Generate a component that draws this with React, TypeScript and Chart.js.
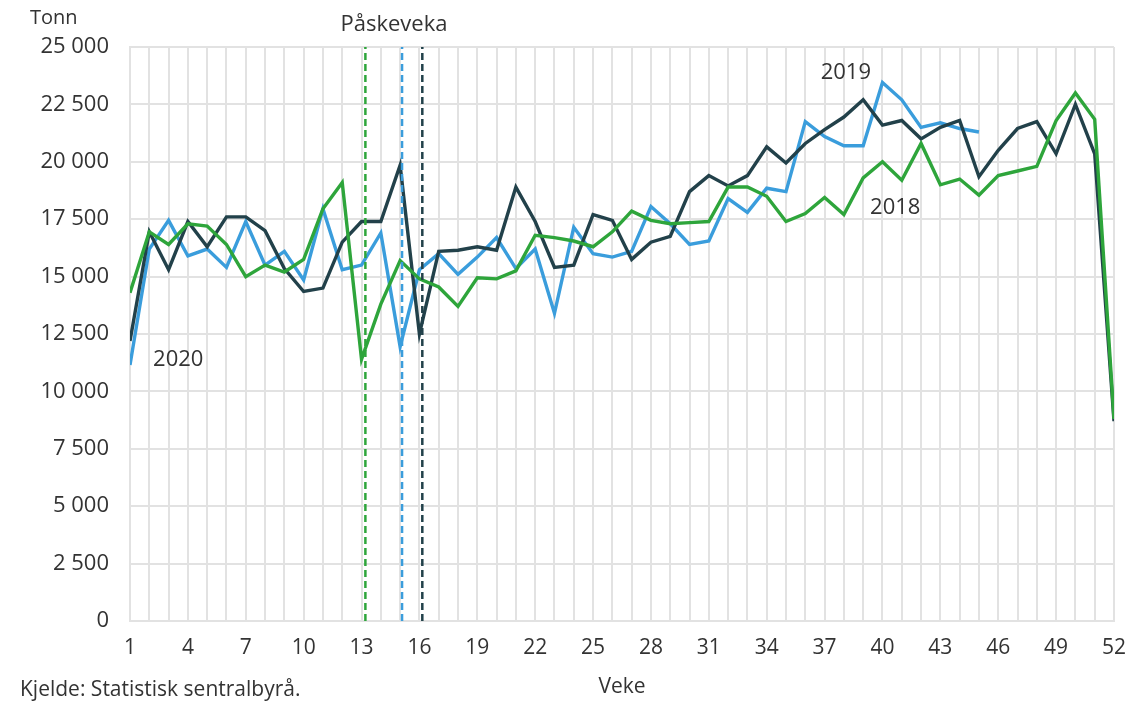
import React, { useEffect, useRef } from "react";
import { Chart, registerables } from "chart.js";

Chart.register(...registerables);

const weeks: number[] = Array.from({ length: 52 }, (_, i) => i + 1);

const series2018: number[] = [
  14300, 16950, 16400, 17300, 17200, 16400, 15000, 15500, 15200, 15750,
  17950, 19100, 11400, 13800, 15700, 14900, 14550, 13700, 14950, 14900,
  15250, 16800, 16700, 16550, 16300, 16950, 17850, 17450, 17300, 17350,
  17400, 18900, 18900, 18500, 17400, 17750, 18450, 17700, 19300, 20000,
  19200, 20800, 19000, 19250, 18550, 19400, 19600, 19800, 21800, 23000,
  21850, 8800,
];

const series2019: number[] = [
  11150, 16200, 17450, 15900, 16200, 15400, 17400, 15500, 16100, 14850,
  17950, 15300, 15500, 16900, 11950, 15300, 16000, 15100, 15850, 16700,
  15350, 16200, 13400, 17150, 16000, 15850, 16100, 18050, 17300, 16400,
  16550, 18400, 17800, 18850, 18700, 21750, 21100, 20700, 20700, 23450,
  22700, 21500, 21700, 21450, 21300,
];

const series2020: number[] = [
  12200, 16950, 15300, 17400, 16300, 17600, 17600, 17000, 15350, 14350,
  14500, 16500, 17400, 17400, 19850, 12500, 16100, 16150, 16300, 16150,
  18900, 17400, 15400, 15500, 17700, 17450, 15750, 16500, 16750, 18700,
  19400, 18950, 19400, 20650, 19950, 20800, 21400, 21950, 22700, 21600,
  21800, 21000, 21500, 21800, 19350, 20500, 21450, 21750, 20350, 22500,
  20350, 8700,
];

const easterWeeks: number[] = [13.2, 15.1, 16.15];
const yTicks: number[] = [0, 2500, 5000, 7500, 10000, 12500, 15000, 17500, 20000, 22500, 25000];
const xTickLabels: number[] = [1, 4, 7, 10, 13, 16, 19, 22, 25, 28, 31, 34, 37, 40, 43, 46, 49, 52];

const GREEN = "#2ea53b";
const BLUE = "#3a9ddc";
const DARK = "#22414a";
const TEXT = "#333333";
const GRID = "#e2e2e2";
const FONT = "'Open Sans', 'Noto Sans', sans-serif";

function fmt(v: number): string {
  const s = String(Math.round(v));
  return s.replace(/\B(?=(\d{3})+(?!\d))/g, " ");
}

const annotationPlugin = {
  id: "annots",
  afterDraw(chart: any) {
    const ctx = chart.ctx;
    const xs = chart.scales.x;
    const ys = chart.scales.y;
    ctx.save();
    ctx.fillStyle = TEXT;
    ctx.textBaseline = "middle";
    ctx.textAlign = "left";
    ctx.font = `20px ${FONT}`;
    ctx.fillText("Tonn", 30, 18);
    ctx.textAlign = "center";
    ctx.font = `22px ${FONT}`;
    ctx.fillText("Påskeveka", 394, 25);
    ctx.fillText("2020", xs.getPixelForValue(3.5), ys.getPixelForValue(11400));
    ctx.fillText("2019", xs.getPixelForValue(38.1), ys.getPixelForValue(23870));
    ctx.fillText("2018", xs.getPixelForValue(40.66), ys.getPixelForValue(17990));
    ctx.font = `21px ${FONT}`;
    ctx.fillText("Veke", 622, 687);
    ctx.textAlign = "left";
    ctx.fillText("Kjelde: Statistisk sentralbyrå.", 20, 690);
    ctx.restore();
  },
};

export default function App() {
  const ref = useRef<HTMLCanvasElement | null>(null);

  useEffect(() => {
    if (!ref.current) return;
    const mk = (arr: number[]) => arr.map((v, i) => ({ x: weeks[i], y: v }));
    const dashSets = easterWeeks.map((w, i) => ({
      label: "påske" + i,
      data: [
        { x: w, y: 0 },
        { x: w, y: 25000 },
      ],
      borderColor: [GREEN, BLUE, DARK][i],
      borderWidth: 2.5,
      borderDash: [7, 4],
      pointRadius: 0,
      fill: false,
    }));
    const chart = new Chart(ref.current, {
      type: "line",
      data: {
        datasets: [
          ...dashSets,
          { label: "2018", data: mk(series2018), borderColor: GREEN, borderWidth: 3.4, pointRadius: 0, tension: 0 },
          { label: "2020", data: mk(series2020), borderColor: DARK, borderWidth: 3.4, pointRadius: 0, tension: 0 },
          { label: "2019", data: mk(series2019), borderColor: BLUE, borderWidth: 3.4, pointRadius: 0, tension: 0 },
        ],
      },
      options: {
        animation: false,
        responsive: true,
        maintainAspectRatio: false,
        layout: { padding: { top: 47, right: 18, left: 0, bottom: 0 } },
        plugins: { legend: { display: false }, tooltip: { enabled: false } },
        scales: {
          x: {
            type: "linear",
            min: 1,
            max: 52,
            afterBuildTicks: (scale: any) => {
              scale.ticks = weeks.map((w) => ({ value: w }));
            },
            afterFit: (scale: any) => {
              scale.height = 83;
              scale.paddingLeft = 0;
              scale.paddingRight = 0;
            },
            ticks: {
              autoSkip: false,
              maxRotation: 0,
              padding: 14,
              color: TEXT,
              font: { family: FONT, size: 21 },
              callback: (v: any) => (xTickLabels.includes(Number(v)) ? String(v) : ""),
            },
            grid: { color: GRID, lineWidth: 2, drawTicks: false },
            border: { color: GRID, width: 2 },
          },
          y: {
            min: 0,
            max: 25000,
            afterBuildTicks: (scale: any) => {
              scale.ticks = yTicks.map((v) => ({ value: v }));
            },
            afterFit: (scale: any) => {
              scale.width = 130;
              scale.paddingTop = 0;
              scale.paddingBottom = 0;
            },
            ticks: {
              padding: 21,
              color: TEXT,
              font: { family: FONT, size: 22 },
              callback: (v: any) => fmt(Number(v)),
            },
            grid: { color: GRID, lineWidth: 2, drawTicks: false },
            border: { color: GRID, width: 2 },
          },
        },
      },
      plugins: [annotationPlugin],
    } as any);
    return () => chart.destroy();
  }, []);

  return (
    <div style={{ position: "fixed", left: 0, top: 0, width: 1132, height: 704, background: "#fff" }}>
      <canvas ref={ref} />
    </div>
  );
}
